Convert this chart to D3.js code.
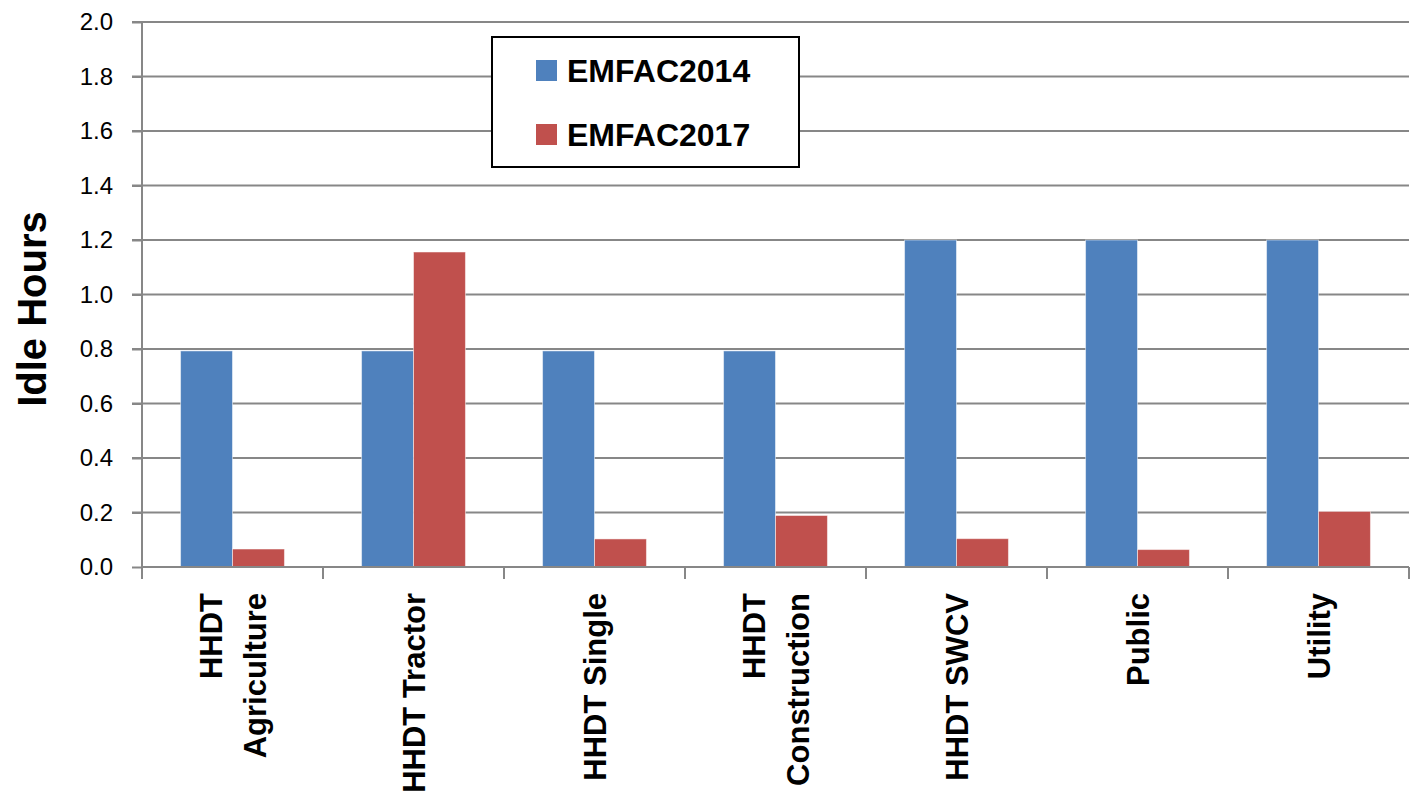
<!DOCTYPE html>
<html><head><meta charset="utf-8">
<script src="https://d3js.org/d3.v7.min.js"></script>
<style>html,body{margin:0;padding:0;background:#fff;}svg{display:block;}</style>
</head><body>
<script>
const categories = [["HHDT","Agriculture"],["HHDT Tractor"],["HHDT Single"],["HHDT","Construction"],["HHDT SWCV"],["Public"],["Utility"]];
const seriesNames = ["EMFAC2014","EMFAC2017"];
const emfac2014 = [0.793,0.793,0.793,0.793,1.2,1.2,1.2];
const emfac2017 = [0.066,1.156,0.103,0.189,0.104,0.064,0.204];
const yTicks = [0,0.2,0.4,0.6,0.8,1.0,1.2,1.4,1.6,1.8,2.0];
const colors = ["#4F81BD","#C0504D"];

const W=1412,H=807;
const L=142,R=1409,T=22,B=567;
const svg=d3.select("body").append("svg").attr("width",W).attr("height",H);
const font="'Liberation Sans', Arial, sans-serif";

const x0=d3.scaleBand().domain(d3.range(categories.length)).range([L,R]).padding(0);
const bw=x0.bandwidth();
const x1=d3.scaleBand().domain(seriesNames).range([bw*0.213,bw*(1-0.213)]).padding(0);
const y=d3.scaleLinear().domain([0,2]).range([B,T]);

// gridlines
svg.append("g").selectAll("line").data(yTicks.filter(d=>d>0)).join("line")
  .attr("x1",L-10).attr("x2",R).attr("y1",d=>y(d)).attr("y2",d=>y(d))
  .attr("stroke","#878787").attr("stroke-width",2);

// y axis
const ya=svg.append("g").attr("transform",`translate(${L},0)`)
  .call(d3.axisLeft(y).tickValues(yTicks).tickFormat(d3.format(".1f")).tickSize(10).tickPadding(19));
ya.select(".domain").attr("stroke","#878787").attr("stroke-width",2).attr("d",`M-10,${T}H0V${B}`);
ya.selectAll(".tick line").attr("stroke","#878787").attr("stroke-width",2);
ya.selectAll(".tick text").attr("font-family",font).attr("font-size",24).attr("fill","#000");

// bars
const data=categories.map((c,i)=>[emfac2014[i],emfac2017[i]]);
const g=svg.append("g");
data.forEach((vals,i)=>{
  g.selectAll(null).data(vals).join("rect")
   .attr("x",(d,j)=>x0(i)+x1(seriesNames[j]))
   .attr("width",x1.bandwidth())
   .attr("y",d=>y(d)).attr("height",d=>y(0)-y(d))
   .attr("fill",(d,j)=>colors[j])
   .attr("stroke","rgba(255,255,255,0.5)").attr("stroke-width",1);
});

// x axis
const xa=svg.append("g");
xa.append("line").attr("x1",L).attr("x2",R).attr("y1",B).attr("y2",B).attr("stroke","#878787").attr("stroke-width",2);
xa.selectAll("line.t").data(d3.range(categories.length+1)).join("line").attr("class","t")
  .attr("x1",d=>d<categories.length?x0(d):R).attr("x2",d=>d<categories.length?x0(d):R)
  .attr("y1",B).attr("y2",B+12).attr("stroke","#878787").attr("stroke-width",2);

// x labels
categories.forEach((lines,i)=>{
  const cx=x0(i)+bw/2;
  const n=lines.length, sp=44;
  lines.forEach((t,k)=>{
    const bx=cx+11+(k-(n-1)/2)*sp;
    svg.append("text").attr("transform",`translate(${bx},593) rotate(-90)`)
      .attr("text-anchor","end").attr("font-family",font).attr("font-weight","bold")
      .attr("font-size",31).attr("fill","#000").text(t);
  });
});

// y title
svg.append("text").attr("transform","translate(46,309) rotate(-90)")
  .attr("text-anchor","middle").attr("font-family",font).attr("font-weight","bold")
  .attr("font-size",40).attr("fill","#000").text("Idle Hours");

// legend
const lg=svg.append("g");
lg.append("rect").attr("x",492).attr("y",37).attr("width",307).attr("height",130)
  .attr("fill","#fff").attr("stroke","#000").attr("stroke-width",2);
seriesNames.forEach((s,j)=>{
  const yy=60+j*64;
  lg.append("rect").attr("x",536).attr("y",yy).attr("width",21).attr("height",21).attr("fill",colors[j]);
  lg.append("text").attr("x",567).attr("y",yy+22).attr("font-family",font).attr("font-weight","bold")
    .attr("font-size",32).attr("fill","#000").text(s);
});
</script>
</body></html>
